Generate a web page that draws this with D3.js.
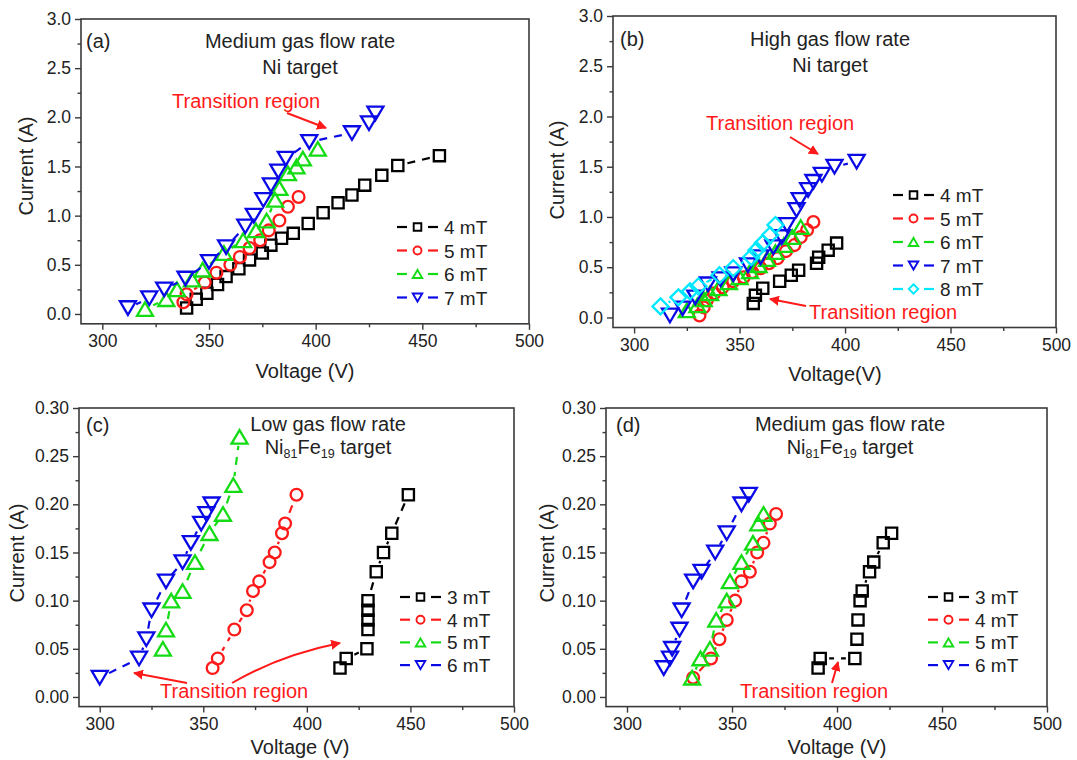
<!DOCTYPE html>
<html><head><meta charset="utf-8">
<script src="https://cdn.jsdelivr.net/npm/d3@7"></script>
<style>
body{margin:0;background:#fff;}
svg{font-family:"Liberation Sans",Arial,sans-serif;}
</style>
</head><body>
<svg id="chart" width="1077" height="760"></svg>
<script>
// ---------- tick labels ----------
const voltageTicks = [300, 350, 400, 450, 500];
const voltageMinor = [325, 375, 425, 475];
const currentTicksNi = [0, 0.5, 1.0, 1.5, 2.0, 2.5, 3.0];
const currentMinorNi = [0.25, 0.75, 1.25, 1.75, 2.25, 2.75];
const currentTicksNiFe = [0, 0.05, 0.10, 0.15, 0.20, 0.25, 0.30];
const currentMinorNiFe = [0.025, 0.075, 0.125, 0.175, 0.225, 0.275];

// ---------- panel (a): Ni target, medium gas flow ----------
const aLabels = ["4 mT", "5 mT", "6 mT", "7 mT"];
const a4V = [339.5, 344, 349, 354, 358, 364, 369, 375, 379, 384, 389.5, 396.5, 403.5, 410.5, 417, 423, 431, 438.5, 458];
const a4I = [0.06, 0.15, 0.21, 0.30, 0.38, 0.46, 0.55, 0.62, 0.70, 0.77, 0.82, 0.92, 1.03, 1.13, 1.21, 1.31, 1.41, 1.51, 1.61];
const a5V = [338, 339.5, 348, 353.5, 360, 364.5, 369, 374, 378, 383, 387, 392];
const a5I = [0.12, 0.20, 0.32, 0.42, 0.50, 0.58, 0.67, 0.75, 0.85, 0.95, 1.09, 1.19];
const a6V = [320, 330, 335, 342, 347, 357, 366, 372, 377, 381, 383, 387, 391, 394, 401];
const a6I = [0.05, 0.15, 0.25, 0.35, 0.45, 0.62, 0.75, 0.85, 0.95, 1.16, 1.28, 1.43, 1.50, 1.58, 1.68];
const a7V = [312, 322, 329, 339, 350, 358, 367, 371, 375.5, 379, 382.5, 386, 397, 417, 425, 428];
const a7I = [0.06, 0.16, 0.25, 0.36, 0.53, 0.68, 0.89, 1.00, 1.16, 1.31, 1.45, 1.58, 1.75, 1.84, 1.94, 2.04];

// ---------- panel (b): Ni target, high gas flow ----------
const bLabels = ["4 mT", "5 mT", "6 mT", "7 mT", "8 mT"];
const b4V = [356.5, 357.5, 361, 369, 374.5, 378, 386.5, 387.5, 392, 396];
const b4I = [0.14, 0.22, 0.29, 0.36, 0.42, 0.47, 0.54, 0.60, 0.67, 0.74];
const b5V = [331, 333, 334.5, 338, 342, 347, 352, 356, 360, 364, 368, 372, 376, 379, 382, 385];
const b5I = [0.02, 0.10, 0.17, 0.24, 0.30, 0.36, 0.40, 0.45, 0.49, 0.54, 0.59, 0.66, 0.72, 0.80, 0.87, 0.95];
const b6V = [325, 330, 333, 336, 340, 345, 350, 355, 359, 363, 367, 371, 375, 379];
const b6I = [0.07, 0.12, 0.18, 0.24, 0.29, 0.35, 0.40, 0.46, 0.52, 0.58, 0.65, 0.72, 0.80, 0.90];
const b7V = [317, 323, 329, 335, 341, 347, 354, 360, 366, 370, 372.5, 377, 378.5, 382.5, 385, 389, 395, 405.5];
const b7I = [0.02, 0.09, 0.20, 0.33, 0.38, 0.43, 0.52, 0.60, 0.70, 0.80, 0.92, 1.07, 1.17, 1.27, 1.35, 1.42, 1.50, 1.55];
const b8V = [312.5, 321, 326.5, 330.5, 340.5, 347, 355.5, 358, 361, 364.5, 367];
const b8I = [0.11, 0.20, 0.26, 0.31, 0.42, 0.49, 0.60, 0.67, 0.74, 0.82, 0.92];

// ---------- panel (c): Ni81Fe19 target, low gas flow ----------
const cLabels = ["3 mT", "4 mT", "5 mT", "6 mT"];
const c3V = [416, 419, 429, 429.5, 429.5, 429.5, 429.5, 433.5, 437, 441, 449];
const c3I = [0.03, 0.04, 0.05, 0.07, 0.08, 0.09, 0.10, 0.13, 0.15, 0.17, 0.21];
const c4V = [354.5, 357, 365, 371, 374, 377, 382, 384.5, 388, 389.5, 395];
const c4I = [0.03, 0.04, 0.07, 0.09, 0.11, 0.12, 0.14, 0.15, 0.17, 0.18, 0.21];
const c5V = [330.5, 332, 334.5, 340, 346, 353, 359.5, 364.5, 367.5];
const c5I = [0.05, 0.07, 0.10, 0.11, 0.14, 0.17, 0.19, 0.22, 0.27];
const c6V = [300, 319, 322.5, 325, 332, 340, 344, 349, 351.5, 354];
const c6I = [0.02, 0.04, 0.06, 0.09, 0.12, 0.14, 0.16, 0.18, 0.19, 0.20];

// ---------- panel (d): Ni81Fe19 target, medium gas flow ----------
const dLabels = ["3 mT", "4 mT", "5 mT", "6 mT"];
const d3V = [391, 392, 408.5, 409.5, 410, 411, 412, 415.5, 417.5, 422, 426];
const d3I = [0.03, 0.04, 0.04, 0.06, 0.08, 0.10, 0.11, 0.13, 0.14, 0.16, 0.17];
const d4V = [331.5, 340, 344, 347.5, 351.5, 354.5, 358.5, 362, 365, 368, 371];
const d4I = [0.02, 0.04, 0.06, 0.08, 0.10, 0.12, 0.13, 0.15, 0.16, 0.18, 0.19];
const d5V = [331, 335, 339.5, 342.5, 347.5, 349, 354.5, 360, 362.5, 365];
const d5I = [0.02, 0.04, 0.05, 0.08, 0.10, 0.12, 0.14, 0.16, 0.18, 0.19];
const d6V = [317.5, 320.5, 321.5, 325, 326, 331.5, 335.5, 342, 347.5, 354.5, 358];
const d6I = [0.03, 0.04, 0.05, 0.07, 0.09, 0.12, 0.13, 0.15, 0.17, 0.20, 0.21];

// ---------- styles ----------
const COL = {black: "#000000", red: "#ff1a1a", green: "#14dc14", blue: "#0a0ae6", cyan: "#00e8ff"};
const svg = d3.select("#chart");
const FONT = "'Liberation Sans', Arial, sans-serif";

svg.append("defs").append("marker")
  .attr("id", "arrow").attr("viewBox", "0 0 10 10").attr("refX", 9).attr("refY", 5)
  .attr("markerWidth", 5).attr("markerHeight", 5).attr("orient", "auto-start-reverse")
  .attr("markerUnits", "strokeWidth")
  .append("path").attr("d", "M0,0 L10,5 L0,10 Z").attr("fill", COL.red);

function symbolPath(shape, s) {
  const h = s / 2;
  switch (shape) {
    case "square": return `M${-h*0.8},${-h*0.8}H${h*0.8}V${h*0.8}H${-h*0.8}Z`;
    case "up": return `M0,${-h*0.85}L${h},${h*0.85}L${-h},${h*0.85}Z`;
    case "down": return `M0,${h*0.85}L${h},${-h*0.85}L${-h},${-h*0.85}Z`;
    case "diamond": return `M0,${-h}L${h},0L0,${h}L${-h},0Z`;
  }
  return null;
}
function drawSymbol(g, shape, cx, cy, s, color, sw) {
  if (shape === "circle") {
    g.append("circle").attr("cx", cx).attr("cy", cy).attr("r", s * 0.42)
      .attr("fill", "none").attr("stroke", color).attr("stroke-width", sw);
  } else {
    g.append("path").attr("d", symbolPath(shape, s)).attr("transform", `translate(${cx},${cy})`)
      .attr("fill", "none").attr("stroke", color).attr("stroke-width", sw).attr("stroke-linejoin", "miter");
  }
}

function drawPanel(cfg) {
  const g = svg.append("g");
  const x = d3.scaleLinear().domain([290, 500]).range([cfg.left, cfg.right]);
  const y = d3.scaleLinear().domain(cfg.yDomain).range([cfg.bottom, cfg.top]);

  // frame
  g.append("rect").attr("x", cfg.left).attr("y", cfg.top)
    .attr("width", cfg.right - cfg.left).attr("height", cfg.bottom - cfg.top)
    .attr("fill", "none").attr("stroke", "#3a3a3a").attr("stroke-width", 1.6);

  // axes
  g.append("g").attr("transform", `translate(0,${cfg.bottom})`)
    .call(d3.axisBottom(x).tickValues(voltageTicks).tickSize(6).tickSizeOuter(0).tickPadding(5));
  g.append("g").attr("transform", `translate(0,${cfg.bottom})`)
    .call(d3.axisBottom(x).tickValues(voltageMinor).tickSize(3.5).tickSizeOuter(0).tickFormat(""));
  g.append("g").attr("transform", `translate(${cfg.left},0)`)
    .call(d3.axisLeft(y).tickValues(cfg.yTicks).tickSize(6).tickSizeOuter(0).tickPadding(4).tickFormat(d3.format(cfg.yFmt)));
  g.append("g").attr("transform", `translate(${cfg.left},0)`)
    .call(d3.axisLeft(y).tickValues(cfg.yMinor).tickSize(3.5).tickSizeOuter(0).tickFormat(""));
  g.selectAll(".domain").remove();
  g.selectAll(".tick line").attr("stroke", "#3a3a3a").attr("stroke-width", 1.4);
  g.selectAll(".tick text").attr("font-family", FONT).attr("font-size", 17.5).attr("fill", "#222");

  // axis titles
  g.append("text").attr("x", cfg.xTitle[0]).attr("y", cfg.xTitle[1]).attr("text-anchor", "middle")
    .attr("font-size", 20).attr("fill", "#222").text(cfg.xTitleText);
  g.append("text").attr("transform", `translate(${cfg.yTitle[0]},${cfg.yTitle[1]}) rotate(-90)`)
    .attr("text-anchor", "middle").attr("font-size", 20).attr("fill", "#222").text("Current (A)");

  // panel letter and titles
  g.append("text").attr("x", cfg.letter[0]).attr("y", cfg.letter[1]).attr("font-size", 20).attr("fill", "#222").text(cfg.letterText);
  g.append("text").attr("x", cfg.titleX).attr("y", cfg.titleY[0]).attr("text-anchor", "middle")
    .attr("font-size", 20).attr("fill", "#222").text(cfg.title1);
  const t2 = g.append("text").attr("x", cfg.titleX).attr("y", cfg.titleY[1]).attr("text-anchor", "middle")
    .attr("font-size", 20).attr("fill", "#222");
  cfg.title2.forEach(p => {
    const ts = t2.append("tspan").text(p.t);
    if (p.sub) ts.attr("font-size", 12.5).attr("baseline-shift", "-30%");
  });

  // series
  const plot = g.append("g");
  cfg.series.forEach(s => {
    const pts = s.V.map((v, i) => [x(v), y(s.I[i])]);
    const gap = 9;
    for (let i = 0; i < pts.length - 1; i++) {
      const [x0, y0] = pts[i], [x1, y1] = pts[i + 1];
      const dx = x1 - x0, dy = y1 - y0, L = Math.hypot(dx, dy);
      if (L <= 2 * gap + 2) continue;
      const ux = dx / L, uy = dy / L;
      const segL = L - 2 * gap;
      const off = -((segL % 15) - 8) / 2;
      plot.append("line")
        .attr("x1", x0 + ux * gap).attr("y1", y0 + uy * gap)
        .attr("x2", x1 - ux * gap).attr("y2", y1 - uy * gap)
        .attr("stroke", s.color).attr("stroke-width", 2.2)
        .attr("stroke-dasharray", "8,7").attr("stroke-dashoffset", off);
    }
    pts.forEach(p => drawSymbol(plot, s.shape, p[0], p[1], s.size || 14, s.color, 2.3));
  });

  // legend
  cfg.series.forEach((s, i) => {
    const ly = cfg.legend.y0 + i * cfg.legend.dy, lx = cfg.legend.x;
    g.append("line").attr("x1", lx).attr("x2", lx + 10).attr("y1", ly).attr("y2", ly)
      .attr("stroke", s.color).attr("stroke-width", 2.2);
    g.append("line").attr("x1", lx + 31).attr("x2", lx + 41).attr("y1", ly).attr("y2", ly)
      .attr("stroke", s.color).attr("stroke-width", 2.2);
    drawSymbol(g, s.shape, lx + 20.5, ly, 9.5, s.color, 1.9);
    g.append("text").attr("x", lx + 47).attr("y", ly + 7).attr("font-size", 19).attr("fill", "#222").text(s.label);
  });

  // annotations
  cfg.notes.forEach(n => {
    g.append("text").attr("x", n.x).attr("y", n.y).attr("font-size", 20).attr("fill", COL.red).text("Transition region");
  });
  cfg.arrows.forEach(a => {
    g.append("path").attr("d", a).attr("fill", "none").attr("stroke", COL.red)
      .attr("stroke-width", 2).attr("marker-end", "url(#arrow)");
  });
}

const mk = (labels, arr) => arr.map((s, i) => Object.assign({label: labels[i]}, s));

drawPanel({
  left: 81, right: 529, top: 19, bottom: 323.8, yDomain: [-0.1, 3.0],
  yTicks: currentTicksNi, yMinor: currentMinorNi, yFmt: ".1f",
  xTitle: [305, 378], xTitleText: "Voltage (V)", yTitle: [33, 166],
  letter: [86, 48], letterText: "(a)", titleX: 300, titleY: [48, 74],
  title1: "Medium gas flow rate", title2: [{t: "Ni target"}],
  series: mk(aLabels, [
    {V: a4V, I: a4I, color: COL.black, shape: "square"},
    {V: a5V, I: a5I, color: COL.red, shape: "circle"},
    {V: a6V, I: a6I, color: COL.green, shape: "up", size: 16},
    {V: a7V, I: a7I, color: COL.blue, shape: "down", size: 16}]),
  legend: {x: 397, y0: 227, dy: 23.5},
  notes: [{x: 172, y: 108}],
  arrows: ["M287,113 L326,128"]
});

drawPanel({
  left: 613, right: 1056, top: 16, bottom: 327.5, yDomain: [-0.1, 3.0],
  yTicks: currentTicksNi, yMinor: currentMinorNi, yFmt: ".1f",
  xTitle: [835, 381], xTitleText: "Voltage(V)", yTitle: [564, 170],
  letter: [620, 46], letterText: "(b)", titleX: 830, titleY: [46, 72],
  title1: "High gas flow rate", title2: [{t: "Ni target"}],
  series: mk(bLabels, [
    {V: b4V, I: b4I, color: COL.black, shape: "square"},
    {V: b5V, I: b5I, color: COL.red, shape: "circle"},
    {V: b6V, I: b6I, color: COL.green, shape: "up", size: 16},
    {V: b7V, I: b7I, color: COL.blue, shape: "down", size: 16},
    {V: b8V, I: b8I, color: COL.cyan, shape: "diamond", size: 16}]),
  legend: {x: 893, y0: 195, dy: 23.5},
  notes: [{x: 809, y: 319}, {x: 706, y: 130}],
  arrows: ["M790,137 L818,154", "M806,306 L770,299"]
});

drawPanel({
  left: 79, right: 514, top: 408, bottom: 706.6, yDomain: [-0.01, 0.30],
  yTicks: currentTicksNiFe, yMinor: currentMinorNiFe, yFmt: ".2f",
  xTitle: [300, 754], xTitleText: "Voltage (V)", yTitle: [24, 553],
  letter: [86, 432], letterText: "(c)", titleX: 328, titleY: [431, 454],
  title1: "Low gas flow rate", title2: [{t: "Ni"}, {t: "81", sub: true}, {t: "Fe"}, {t: "19", sub: true}, {t: " target"}],
  series: mk(cLabels, [
    {V: c3V, I: c3I, color: COL.black, shape: "square"},
    {V: c4V, I: c4I, color: COL.red, shape: "circle"},
    {V: c5V, I: c5I, color: COL.green, shape: "up", size: 16},
    {V: c6V, I: c6I, color: COL.blue, shape: "down", size: 16}]),
  legend: {x: 400, y0: 597, dy: 22.7},
  notes: [{x: 160, y: 698}],
  arrows: ["M187,683 L134,673", "M232,683 Q280,655 340,643"]
});

drawPanel({
  left: 606, right: 1047, top: 408, bottom: 706.6, yDomain: [-0.01, 0.30],
  yTicks: currentTicksNiFe, yMinor: currentMinorNiFe, yFmt: ".2f",
  xTitle: [837, 754], xTitleText: "Voltage (V)", yTitle: [554, 553],
  letter: [616, 432], letterText: "(d)", titleX: 850, titleY: [431, 454],
  title1: "Medium gas flow rate", title2: [{t: "Ni"}, {t: "81", sub: true}, {t: "Fe"}, {t: "19", sub: true}, {t: " target"}],
  series: mk(dLabels, [
    {V: d3V, I: d3I, color: COL.black, shape: "square"},
    {V: d4V, I: d4I, color: COL.red, shape: "circle"},
    {V: d5V, I: d5I, color: COL.green, shape: "up", size: 16},
    {V: d6V, I: d6I, color: COL.blue, shape: "down", size: 16}]),
  legend: {x: 928, y0: 597, dy: 22.7},
  notes: [{x: 740, y: 698}],
  arrows: ["M832,683 L838,662"]
});
</script>
</body></html>
